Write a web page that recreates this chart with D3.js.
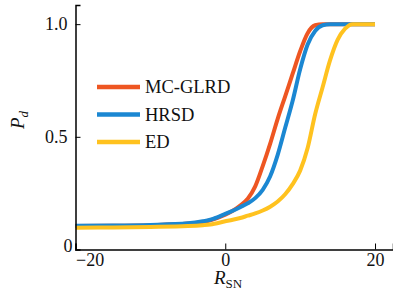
<!DOCTYPE html>
<html>
<head>
<meta charset="utf-8">
<script src="https://cdn.jsdelivr.net/npm/d3@7"></script>
<style>
  body { margin: 0; background: #fff; }
</style>
</head>
<body>
<div id="chart"></div>
<script>
// values (R_SN, Pd)
var snr = [-20, -15, -10, -5, -3, -2, 0, 1, 2, 3, 4, 5, 6, 7, 8, 9, 10, 11, 12, 13, 14, 15, 16, 17, 20];
var mcglrd = [0.104, 0.105, 0.108, 0.115, 0.122, 0.13, 0.155, 0.172, 0.195, 0.225, 0.28, 0.37, 0.47, 0.58, 0.68, 0.78, 0.88, 0.96, 0.995, 1.0, 1.0, 1.0, 1.0, 1.0, 1.0];
var hrsd = [0.105, 0.106, 0.109, 0.116, 0.125, 0.132, 0.158, 0.172, 0.188, 0.205, 0.228, 0.265, 0.325, 0.42, 0.54, 0.66, 0.8, 0.91, 0.97, 0.995, 1.0, 1.0, 1.0, 1.0, 1.0];
var ed = [0.097, 0.098, 0.1, 0.104, 0.108, 0.111, 0.125, 0.132, 0.14, 0.15, 0.16, 0.173, 0.19, 0.213, 0.245, 0.29, 0.35, 0.45, 0.6, 0.72, 0.84, 0.93, 0.98, 1.0, 1.0];
var names = ["MC-GLRD", "HRSD", "ED"];
var colors = ["#ee5622", "#1b87d2", "#ffc21f"];
var xTicks = [-20, 0, 20];
var yTicks = [0, 0.5, 1.0];

var serif = "Liberation Serif";
var width = 393, height = 291;
var svg = d3.select("#chart").append("svg")
    .attr("width", width)
    .attr("height", height)
    .attr("font-family", serif);

var x = d3.scaleLinear().domain([-20, 22.4]).range([75.5, 393]);
var y = d3.scaleLinear().domain([0, 1.085]).range([249.5, 5]);

var series = [mcglrd, hrsd, ed];
var line = d3.line()
    .x(function (d, i) { return x(snr[i]); })
    .y(function (d) { return y(d); })
    .curve(d3.curveMonotoneX);

svg.selectAll("path.curve")
    .data(series)
    .enter()
    .append("path")
    .attr("class", "curve")
    .attr("d", line)
    .attr("fill", "none")
    .attr("stroke", function (d, i) { return colors[i]; })
    .attr("stroke-width", 4)
    .attr("stroke-linejoin", "round");

// axes
var xAxis = d3.axisBottom(x).tickValues(xTicks).tickSize(-6).tickPadding(4)
    .tickFormat(function (d) { return d < 0 ? "\u2212" + Math.abs(d) : d; });
var gx = svg.append("g")
    .attr("transform", "translate(0," + y(0) + ")")
    .call(xAxis)
    .attr("font-family", serif)
    .attr("font-size", 18);
gx.select(".domain").attr("stroke-width", 1.5);
gx.selectAll("text").attr("fill", "#111");
gx.selectAll(".tick").filter(function (d) { return d === -20; })
    .select("text").attr("text-anchor", "start").attr("x", 0);

var yAxis = d3.axisLeft(y).tickValues(yTicks).tickSize(-5).tickPadding(8)
    .tickFormat(function (d) { return d === 0 ? "0" : d3.format(".1f")(d); });
var gy = svg.append("g")
    .attr("transform", "translate(" + x(-20) + ",0)")
    .call(yAxis)
    .attr("font-family", serif)
    .attr("font-size", 18);
gy.select(".domain").attr("stroke-width", 1.5);
gy.selectAll("text").attr("fill", "#111");
gy.selectAll(".tick").filter(function (d) { return d === 0; })
    .select("text").attr("x", -3).attr("dy", "0.1em");
gy.selectAll(".tick").filter(function (d) { return d === 0; })
    .select("line").remove();

// axis titles
var yl = svg.append("text")
    .attr("transform", "translate(24,120) rotate(-90)")
    .attr("text-anchor", "middle")
    .attr("font-size", 19)
    .attr("fill", "#111");
yl.append("tspan").attr("font-style", "italic").text("P");
yl.append("tspan").attr("font-style", "italic").attr("font-size", 13).attr("dy", 4).text("d");

var xl = svg.append("text")
    .attr("x", 228)
    .attr("y", 284)
    .attr("text-anchor", "middle")
    .attr("font-size", 19)
    .attr("fill", "#111");
xl.append("tspan").attr("font-style", "italic").text("R");
xl.append("tspan").attr("font-size", 13).attr("dy", 4).text("SN");

// legend
var legend = svg.selectAll("g.leg")
    .data(names)
    .enter()
    .append("g")
    .attr("class", "leg")
    .attr("transform", function (d, i) { return "translate(97," + (87 + i * 27.5) + ")"; });
legend.append("line")
    .attr("x1", 0).attr("x2", 43)
    .attr("stroke", function (d, i) { return colors[i]; })
    .attr("stroke-width", 4.5);
legend.append("text")
    .attr("x", 48)
    .attr("dy", "0.35em")
    .attr("font-size", 18.5)
    .attr("fill", "#111")
    .text(function (d) { return d; });
</script>
</body>
</html>
